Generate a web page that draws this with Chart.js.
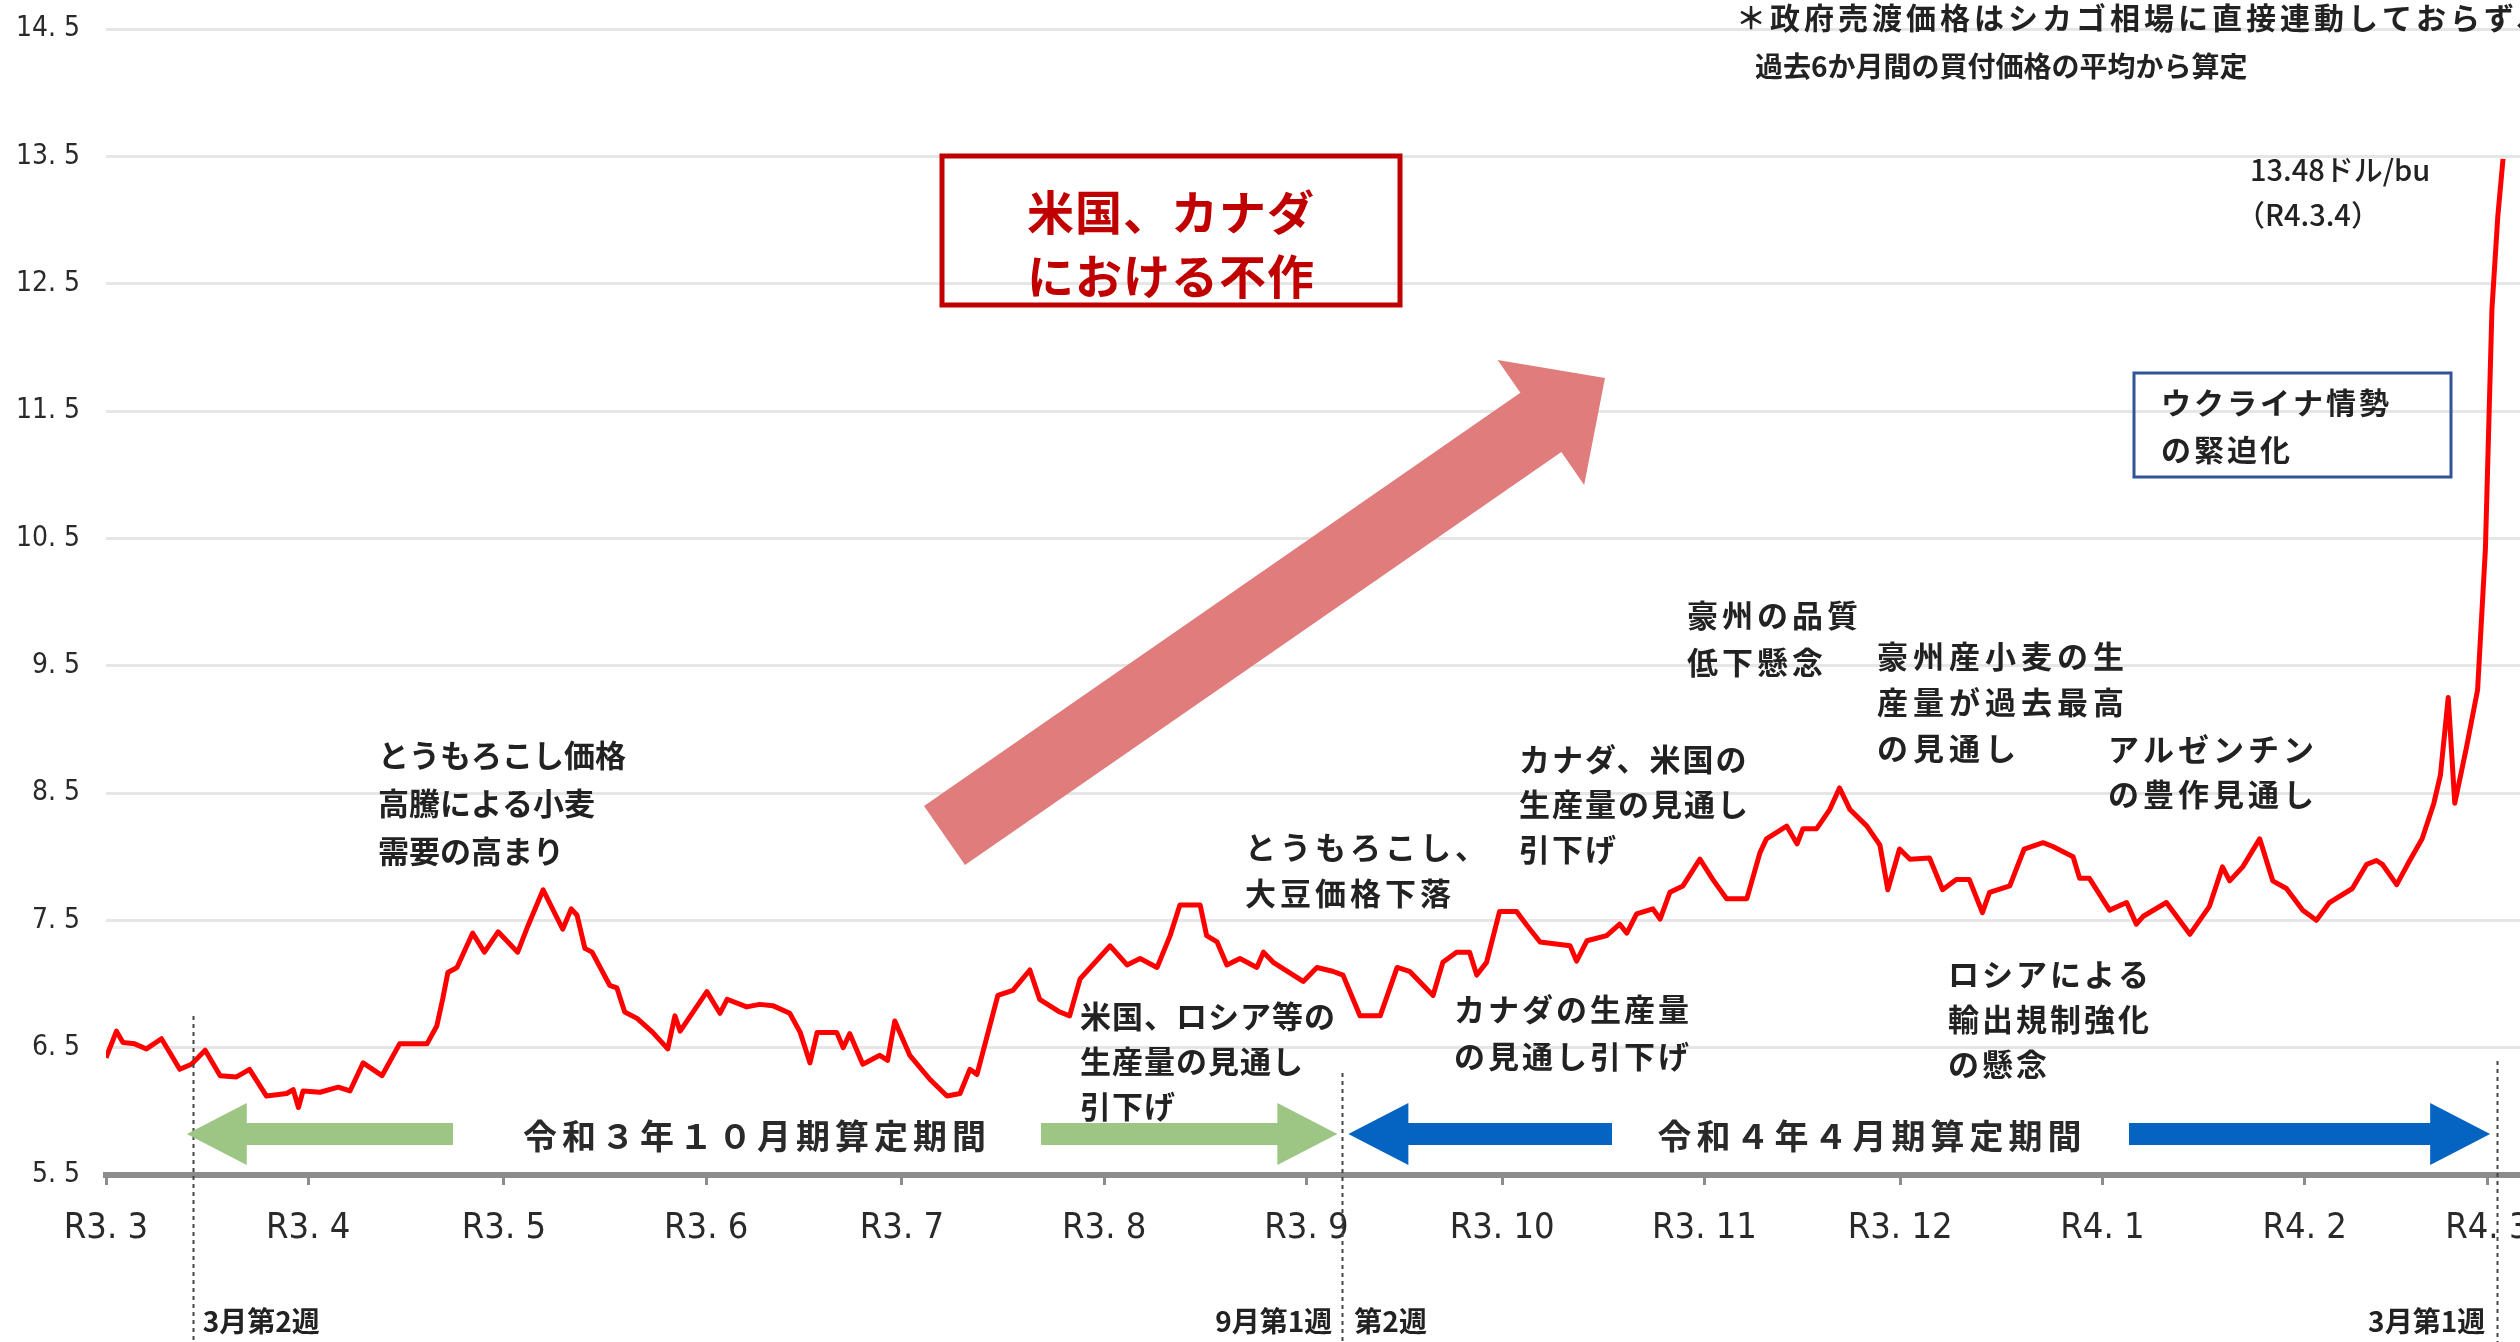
<!DOCTYPE html>
<html lang="ja">
<head>
<meta charset="utf-8">
<title>シカゴ小麦相場</title>
<script src="https://cdn.jsdelivr.net/npm/chart.js@4.4.1/dist/chart.umd.min.js"></script>
<style>
  html, body { margin: 0; padding: 0; background: #fff; }
  #wrap { width: 2520px; height: 1342px; }
</style>
</head>
<body>
<div id="wrap"><canvas id="myChart" width="2520" height="1342"></canvas></div>
<script>
// days counted from R3.3.1 (2021-03-01)
const days = [
  0, 1.6, 2.6, 4.4, 6.2, 8.5, 9.8, 11.3, 13.1, 15.2, 17.5, 20, 22, 24.6, 27.7, 28.7, 29.5, 30.2,
  32.8, 35.6, 37.4, 39.4, 42.3, 45, 49.2, 50.7, 51.6, 52.4, 53.8, 56.2, 58, 60.1, 63.1, 64.7, 67,
  70, 71.3, 72.2, 73.4, 74.5, 77.2, 78.3, 79.5, 81.4, 83.8, 86.1, 87.2, 88, 92.1, 94.1, 95.2,
  98.2, 100.2, 102.2, 104.8, 106.4, 107.9, 109, 112, 113, 114, 116, 118.6, 119.8, 120.9, 123.2,
  126.3, 128.9, 130.9, 132.4, 133.5, 136.7, 139, 141.6, 143.1, 146.2, 147.7, 149.3, 153.9, 156.5,
  158.5, 161.1, 163.1, 164.6, 167.7, 168.7, 170.3, 171.8, 173.8, 176.4, 177.4, 178.9, 183.5,
  185.6, 188, 189.6, 192.2, 195.3, 197.9, 199.8, 203.4, 204.9, 207, 209, 210.1, 211.6, 213.6,
  216.2, 217.8, 219.8, 224.4, 225.4, 227, 230, 232, 233.1, 234.6, 237.1, 238.2, 239.7, 241.7,
  244.3, 246.3, 248.4, 251.5, 253.5, 254.5, 257.6, 259.2, 260.1, 262.2, 264.2, 265.7, 267.3,
  269.9, 271.9, 273.1, 274.9, 276.5, 279.5, 281.5, 283.6, 285.6, 287.6, 288.7, 291.8, 294,
  296.9, 298.4, 301.5, 302.5, 304, 307.1, 309.7, 311.2, 312.2, 315.8, 319.4, 322.4, 324.4,
  325.5, 327.5, 330.1, 332.1, 334.2, 336.7, 338.8, 340.8, 344.3, 346.5, 348, 348.9, 351.1,
  353.1, 355, 356.8, 357.8, 359, 360, 361.8, 363.5, 364.7, 365.7, 366.6, 367.4
];
// シカゴ小麦 (ドル/bu)
const prices = [
  6.42, 6.63, 6.54, 6.53, 6.49, 6.57, 6.46, 6.33, 6.37, 6.48, 6.28, 6.27, 6.33, 6.12, 6.14, 6.17, 6.03, 6.16,
  6.15, 6.19, 6.16, 6.38, 6.28, 6.53, 6.53, 6.67, 6.88, 7.09, 7.13, 7.40, 7.25, 7.41, 7.25, 7.46, 7.74,
  7.43, 7.59, 7.54, 7.28, 7.25, 6.99, 6.97, 6.78, 6.73, 6.62, 6.49, 6.75, 6.63, 6.94, 6.77, 6.88,
  6.82, 6.84, 6.83, 6.77, 6.62, 6.38, 6.62, 6.62, 6.50, 6.61, 6.37, 6.44, 6.40, 6.71, 6.44,
  6.25, 6.12, 6.14, 6.33, 6.29, 6.91, 6.95, 7.11, 6.88, 6.78, 6.75, 7.04, 7.30, 7.15,
  7.20, 7.13, 7.38, 7.62, 7.62, 7.38, 7.33, 7.15, 7.20, 7.13, 7.25, 7.17, 7.02,
  7.13, 7.10, 7.07, 6.75, 6.75, 7.13, 7.10, 6.91, 7.17, 7.25, 7.25, 7.07, 7.17, 7.57,
  7.57, 7.46, 7.33, 7.30, 7.18, 7.34, 7.38, 7.47, 7.40, 7.55, 7.59, 7.51, 7.72, 7.77,
  7.98, 7.82, 7.67, 7.67, 8.03, 8.14, 8.24, 8.10, 8.22, 8.22, 8.37, 8.54, 8.37,
  8.24, 8.09, 7.74, 8.06, 7.98, 7.99, 7.74, 7.82, 7.82, 7.56, 7.72, 7.77, 8.06,
  8.11, 8.08, 8.00, 7.83, 7.83, 7.58, 7.64, 7.47, 7.53, 7.64, 7.39, 7.61, 7.92,
  7.81, 7.92, 8.14, 7.81, 7.75, 7.58, 7.50, 7.64, 7.75, 7.94, 7.97, 7.94, 7.78,
  7.97, 8.14, 8.42, 8.64, 9.25, 8.42, 8.86, 9.31, 10.42, 12.30, 13.03, 13.48
];

const monthDays = [0, 31, 61, 92, 122, 153, 184, 214, 245, 275, 306, 337, 365];
const monthLabels = ['R3. 3', 'R3. 4', 'R3. 5', 'R3. 6', 'R3. 7', 'R3. 8', 'R3. 9',
                     'R3. 10', 'R3. 11', 'R3. 12', 'R4. 1', 'R4. 2', 'R4. 3'];
const yTicks = [5.5, 6.5, 7.5, 8.5, 9.5, 10.5, 11.5, 12.5, 13.5, 14.5];

// 週の区切り (days)
const weekMarks = [13.3, 189.5, 366.5];

const JP = "'Noto Sans CJK JP', 'Noto Sans', sans-serif";
const NARROW = "'Liberation Sans Narrow', 'DejaVu Sans Condensed', 'Noto Sans CJK JP', sans-serif";

const notes = [
  { lines: ['とうもろこし価格', '高騰による小麦', '需要の高まり'], x: 378, y: 755, lh: 48, sp: 0 },
  { lines: ['とうもろこし、', '大豆価格下落'], x: 1245, y: 847, lh: 46, sp: 4 },
  { lines: ['米国、ロシア等の', '生産量の見通し', '引下げ'], x: 1080, y: 1016, lh: 45, sp: 1 },
  { lines: ['カナダの生産量', 'の見通し引下げ'], x: 1454, y: 1009, lh: 47, sp: 3 },
  { lines: ['カナダ、米国の', '生産量の見通し', '引下げ'], x: 1519, y: 759, lh: 45, sp: 2 },
  { lines: ['豪州の品質', '低下懸念'], x: 1687, y: 615, lh: 47, sp: 4 },
  { lines: ['豪州産小麦の生', '産量が過去最高', 'の見通し'], x: 1877, y: 656, lh: 46, sp: 5 },
  { lines: ['アルゼンチン', 'の豊作見通し'], x: 2108, y: 749, lh: 45, sp: 4 },
  { lines: ['ロシアによる', '輸出規制強化', 'の懸念'], x: 1948, y: 974, lh: 45, sp: 3 }
];

function hArrow(ctx, x1, x2, y, shaft, headLen, headH, color) {
  const dir = Math.sign(x2 - x1);
  const hb = x2 - dir * headLen;
  ctx.fillStyle = color;
  ctx.beginPath();
  ctx.moveTo(x1, y - shaft / 2);
  ctx.lineTo(hb, y - shaft / 2);
  ctx.lineTo(hb, y - headH / 2);
  ctx.lineTo(x2, y);
  ctx.lineTo(hb, y + headH / 2);
  ctx.lineTo(hb, y + shaft / 2);
  ctx.lineTo(x1, y + shaft / 2);
  ctx.closePath();
  ctx.fill();
}

function bigArrow(ctx, tx, ty, px, py, half, headHalf, headLen, color) {
  const dx = px - tx, dy = py - ty, len = Math.hypot(dx, dy);
  const ux = dx / len, uy = dy / len, nx = -uy, ny = ux;
  const bx = px - ux * headLen, by = py - uy * headLen;
  ctx.fillStyle = color;
  ctx.beginPath();
  ctx.moveTo(tx + nx * half, ty + ny * half);
  ctx.lineTo(bx + nx * half, by + ny * half);
  ctx.lineTo(bx + nx * headHalf, by + ny * headHalf);
  ctx.lineTo(px, py);
  ctx.lineTo(bx - nx * headHalf, by - ny * headHalf);
  ctx.lineTo(bx - nx * half, by - ny * half);
  ctx.lineTo(tx - nx * half, ty - ny * half);
  ctx.closePath();
  ctx.fill();
}

const annotations = {
  id: 'annotations',
  afterDraw(chart) {
    const ctx = chart.ctx;
    const xs = chart.scales.x;
    ctx.save();

    // 週区切りの点線
    const tops = [1016, 1073, 1061];
    ctx.strokeStyle = '#444';
    ctx.lineWidth = 2;
    ctx.setLineDash([4, 4]);
    weekMarks.forEach((d, i) => {
      const x = Math.round(xs.getPixelForValue(d)) + 0.5;
      ctx.beginPath();
      ctx.moveTo(x, tops[i]);
      ctx.lineTo(x, 1342);
      ctx.stroke();
    });
    ctx.setLineDash([]);

    // 算定期間の矢印
    const m0 = xs.getPixelForValue(weekMarks[0]);
    const m1 = xs.getPixelForValue(weekMarks[1]);
    const m2 = xs.getPixelForValue(weekMarks[2]);
    const green = '#9DC583', blue = '#0563C1';
    hArrow(ctx, 453, m0 - 6, 1134, 22, 60, 62, green);
    hArrow(ctx, 1041, m1 - 5, 1134, 22, 60, 62, green);
    hArrow(ctx, 1612, m1 + 6, 1134, 22, 60, 62, blue);
    hArrow(ctx, 2129, m2 - 7, 1134, 22, 60, 62, blue);

    ctx.fillStyle = '#2a2a2a';
    ctx.textBaseline = 'middle';
    ctx.textAlign = 'center';
    ctx.font = `700 34px ${JP}`;
    ctx.letterSpacing = '5px';
    ctx.fillText('令和３年１０月期算定期間', 757, 1136);
    ctx.fillText('令和４年４月期算定期間', 1872, 1136);

    // 大きな矢印
    bigArrow(ctx, 944.5, 835.5, 1605, 378, 36, 76, 78, '#E07C7C');

    // 赤枠
    ctx.strokeStyle = '#C00000';
    ctx.lineWidth = 5;
    ctx.strokeRect(942, 156, 458, 149);
    ctx.fillStyle = '#C00000';
    ctx.font = `700 47px ${JP}`;
    ctx.letterSpacing = '1px';
    ctx.fillText('米国、カナダ', 1171, 212);
    ctx.fillText('における不作', 1171, 276);

    // 青枠
    ctx.strokeStyle = '#2F5597';
    ctx.lineWidth = 3;
    ctx.strokeRect(2134, 373, 317, 104);
    ctx.fillStyle = '#222';
    ctx.textAlign = 'left';
    ctx.font = `700 30px ${JP}`;
    ctx.letterSpacing = '3px';
    ctx.fillText('ウクライナ情勢', 2161, 403);
    ctx.fillText('の緊迫化', 2161, 450);

    // 吹き出し文
    ctx.font = `700 31px ${JP}`;
    notes.forEach(n => {
      ctx.letterSpacing = n.sp + 'px';
      n.lines.forEach((t, i) => ctx.fillText(t, n.x, n.y + i * n.lh));
    });

    // 最高値
    ctx.font = `500 29px ${JP}`;
    ctx.letterSpacing = '0px';
    ctx.fillText('13.48ドル/bu', 2250, 170);
    ctx.fillText('（R4.3.4）', 2236, 215);

    // 注記
    ctx.font = `700 30px ${JP}`;
    ctx.letterSpacing = '4px';
    ctx.fillText('＊政府売渡価格はシカゴ相場に直接連動しておらず、', 1736, 18);
    ctx.font = `700 28px ${JP}`;
    ctx.letterSpacing = '0px';
    ctx.fillText('過去6か月間の買付価格の平均から算定', 1755, 66);

    // 週ラベル
    ctx.font = `700 28px ${JP}`;
    ctx.fillText('3月第2週', xs.getPixelForValue(weekMarks[0]) + 10, 1321);
    ctx.fillText('第2週', xs.getPixelForValue(weekMarks[1]) + 12, 1321);
    ctx.textAlign = 'right';
    ctx.fillText('9月第1週', xs.getPixelForValue(weekMarks[1]) - 10, 1321);
    ctx.fillText('3月第1週', xs.getPixelForValue(weekMarks[2]) - 12, 1321);

    ctx.restore();
  }
};

new Chart(document.getElementById('myChart'), {
  type: 'line',
  data: {
    datasets: [{
      label: 'シカゴ小麦',
      data: days.map((d, i) => ({ x: d, y: prices[i] })),
      borderColor: '#FF0000',
      borderWidth: 5,
      pointRadius: 0,
      tension: 0,
      borderJoinStyle: 'round'
    }]
  },
  options: {
    responsive: false,
    animation: false,
    devicePixelRatio: 1,
    layout: { padding: { top: 29, left: 0, right: 0, bottom: 0 } },
    plugins: { legend: { display: false }, tooltip: { enabled: false } },
    scales: {
      x: {
        type: 'linear',
        min: 0,
        max: 370,
        afterBuildTicks: s => { s.ticks = monthDays.map(v => ({ value: v })); },
        afterFit: s => { s.height = 167; s.paddingLeft = 0; s.paddingRight = 0; },
        ticks: {
          autoSkip: false,
          maxRotation: 0,
          padding: 22,
          color: '#2a2a2a',
          font: { family: NARROW, size: 36 },
          callback: (v, i) => monthLabels[i]
        },
        grid: { drawOnChartArea: false, drawTicks: true, tickLength: 10, color: '#8c8c8c', lineWidth: 3 },
        border: { color: '#8c8c8c', width: 6 }
      },
      y: {
        min: 5.5,
        max: 14.5,
        afterBuildTicks: s => { s.ticks = yTicks.map(v => ({ value: v })); },
        afterFit: s => { s.width = 106; s.paddingTop = 0; s.paddingBottom = 0; },
        ticks: {
          padding: 26,
          color: '#2a2a2a',
          font: { family: NARROW, size: 28 },
          callback: v => v.toFixed(1).replace('.', '. ')
        },
        grid: { color: '#e6e6e6', lineWidth: 3, drawTicks: false },
        border: { display: false }
      }
    }
  },
  plugins: [annotations]
});
</script>
</body>
</html>
